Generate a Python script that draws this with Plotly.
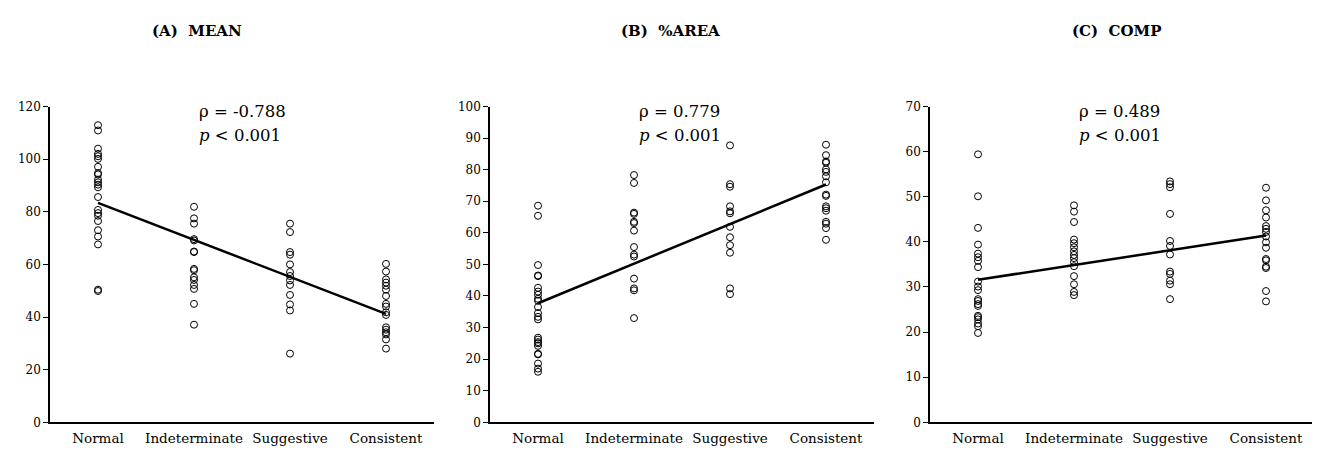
import plotly.graph_objects as go

categories = ["Normal", "Indeterminate", "Suggestive", "Consistent"]
panel_titles = ["(A)  MEAN", "(B)  %AREA", "(C)  COMP"]
rho_labels = ["ρ = -0.788", "ρ = 0.779", "ρ = 0.489"]
p_label = "<i>p</i> < 0.001"

# Panel A: MEAN
mean_normal = [112.9, 110.9, 104.0, 102.0, 101.1, 100.1, 97.1, 94.7, 94.2, 92.2, 91.2, 90.3,
               89.3, 85.6, 80.7, 79.5, 78.5, 76.5, 73.0, 70.6, 67.6, 50.4, 49.9]
mean_indet = [81.9, 77.5, 75.5, 69.6, 69.1, 64.9, 64.7, 58.3, 57.8, 55.1, 54.1, 52.2, 50.7, 45.0, 37.1]
mean_sugg = [75.5, 72.3, 64.7, 63.7, 60.0, 57.1, 55.6, 53.9, 52.2, 48.4, 44.8, 42.5, 26.1]
mean_cons = [60.2, 57.3, 54.3, 53.1, 51.9, 50.4, 48.0, 45.0, 44.0, 41.8, 40.8, 36.1, 35.2,
             34.2, 33.4, 31.5, 28.0]
mean_trend = [83.4, 41.2]

# Panel B: %AREA
area_normal = [68.6, 65.4, 49.8, 46.5, 46.3, 42.6, 41.4, 40.4, 39.1, 38.5, 36.5, 34.6, 33.4, 32.6,
               26.8, 26.2, 25.4, 25.0, 24.2, 21.7, 21.5, 18.6, 17.0, 16.0]
area_indet = [78.3, 75.8, 66.4, 66.0, 63.5, 63.1, 60.7, 55.5, 53.1, 52.5, 45.5, 42.4, 41.8, 33.0]
area_sugg = [87.7, 75.4, 74.6, 68.4, 66.8, 66.2, 61.9, 58.6, 56.1, 53.7, 42.4, 40.6]
area_cons = [87.9, 84.6, 82.6, 82.2, 80.1, 79.3, 77.9, 76.0, 72.1, 71.7, 68.4, 67.8, 67.0,
             63.5, 62.9, 61.5, 57.8]
area_trend = [37.7, 75.3]

# Panel C: COMP
comp_normal = [59.4, 50.1, 43.1, 39.4, 37.4, 36.6, 35.8, 34.4, 31.2, 30.1, 29.3, 27.3, 26.9,
               26.2, 25.8, 23.6, 23.3, 22.8, 21.9, 21.3, 19.8]
comp_indet = [48.1, 46.7, 44.4, 40.5, 39.7, 38.8, 37.9, 37.1, 36.4, 35.5, 34.6, 32.4, 30.6, 28.9, 28.2]
comp_sugg = [53.4, 52.8, 52.1, 46.2, 40.2, 39.1, 37.2, 33.4, 32.9, 31.4, 30.6, 27.3]
comp_cons = [52.0, 49.2, 47.0, 45.4, 43.5, 42.9, 42.2, 41.2, 39.9, 38.7, 36.2, 35.9, 34.5,
             34.2, 29.1, 26.8]
comp_trend = [31.6, 41.4]

y_ranges = [[0, 120], [0, 100], [0, 70]]
y_dticks = [20, 10, 10]

panels = [
    [mean_normal, mean_indet, mean_sugg, mean_cons],
    [area_normal, area_indet, area_sugg, area_cons],
    [comp_normal, comp_indet, comp_sugg, comp_cons],
]
trends = [mean_trend, area_trend, comp_trend]

# the page body keeps its default 8px margin: size the figure to fill the rest of the window
OFF = 8
W, H = 1320 - OFF, 454 - OFF
FONT = "DejaVu Serif"


def px(xr):
    return (xr - OFF) / W


def py(yr):
    return 1 - (yr - OFF) / H


x_domains = [[px(50), px(434)], [px(490), px(874)], [px(930), px(1314)]]
y_domain = [py(428.5), py(102.5)]
title_left_px = [150, 619, 1070]

fig = go.Figure()
layout = dict(
    width=W, height=H,
    margin=dict(l=0, r=0, t=0, b=0),
    paper_bgcolor="white", plot_bgcolor="white",
    showlegend=False,
    font=dict(family=FONT, color="black", size=12),
)
annotations = []

for i, groups in enumerate(panels):
    xa = "x" if i == 0 else f"x{i + 1}"
    ya = "y" if i == 0 else f"y{i + 1}"
    xs, ys = [], []
    for ci, vals in enumerate(groups):
        xs += [ci] * len(vals)
        ys += vals
    fig.add_trace(go.Scatter(
        x=xs, y=ys, mode="markers", xaxis=xa, yaxis=ya,
        marker=dict(symbol="circle-open", size=7, color="black", line=dict(width=1, color="black")),
        cliponaxis=False,
    ))
    fig.add_trace(go.Scatter(
        x=[0, 3], y=trends[i], mode="lines", xaxis=xa, yaxis=ya,
        line=dict(color="black", width=2.5),
    ))
    xkey = "xaxis" if i == 0 else f"xaxis{i + 1}"
    ykey = "yaxis" if i == 0 else f"yaxis{i + 1}"
    layout[xkey] = dict(
        domain=x_domains[i], anchor=ya, range=[-0.5, 3.5],
        tickvals=[0, 1, 2, 3], ticktext=categories,
        showline=True, linecolor="black", linewidth=1.5,
        showgrid=False, zeroline=False, ticks="",
        ticklabelstandoff=3,
        tickfont=dict(family=FONT, size=13.5, color="black"),
    )
    layout[ykey] = dict(
        domain=y_domain, anchor=xa, range=y_ranges[i], dtick=y_dticks[i],
        showline=True, linecolor="black", linewidth=1.5,
        showgrid=False, zeroline=False, ticks="outside", ticklen=5, tickwidth=1,
        tickcolor="black",
        tickfont=dict(family=FONT, size=12, color="black"),
    )
    annotations.append(dict(
        text=f"<b>{panel_titles[i]}</b>", xref="paper", yref="paper",
        x=px(title_left_px[i]), y=py(25), xanchor="left", yanchor="middle",
        showarrow=False, font=dict(family=FONT, size=15, color="black"),
    ))
    ax_left = [50, 490, 930][i]
    annotations.append(dict(
        text=rho_labels[i], xref="paper", yref="paper",
        x=px(ax_left + 147), y=py(108), xanchor="left", yanchor="middle",
        showarrow=False, font=dict(family=FONT, size=16.5, color="black"),
    ))
    annotations.append(dict(
        text=p_label, xref="paper", yref="paper",
        x=px(ax_left + 147), y=py(132), xanchor="left", yanchor="middle",
        showarrow=False, font=dict(family=FONT, size=16.5, color="black"),
    ))

layout["annotations"] = annotations
fig.update_layout(**layout)
fig.write_html("out.html", config={"displayModeBar": False})
